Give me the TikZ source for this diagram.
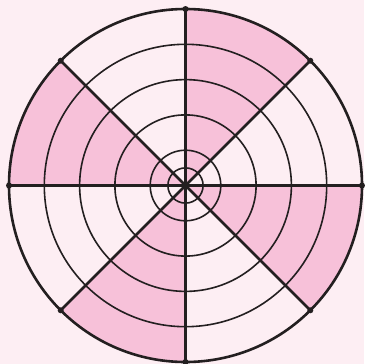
\documentclass[tikz,border=0pt]{standalone}
\usetikzlibrary{calc}
\definecolor{bg}{HTML}{FDEEF3}
\definecolor{shadepink}{HTML}{F7C1D9}
\definecolor{ink}{HTML}{231F20}
\tikzset{
  ring/.style={draw=ink, line width=1.6pt},
  spoke/.style={draw=ink, line width=2.6pt},
  rim/.style={draw=ink, line width=2.6pt},
  enddot/.style={fill=ink},
}
\begin{document}
\begin{tikzpicture}[x=1pt,y=1pt]
\fill[bg] (0,0) rectangle (364,-364);
\useasboundingbox (0,0) rectangle (364,-364);
\coordinate (O) at (185.5,-185.5);
\def\R{176.5}
\foreach \a in {45,135,225,315}
  \fill[shadepink] (O) -- ++(\a:\R) arc[start angle=\a, end angle=\a+45, radius=\R] -- cycle;
\foreach \r in {17.6,35.3,70.6,105.9,141.2}
  \draw[ring] (O) circle[radius=\r];
\draw[rim] (O) circle[radius=\R];
\foreach \a in {0,45,...,315}{
  \coordinate (E\a) at ($(O)+(\a:\R)$);
  \draw[spoke] (O) -- (E\a);
  \fill[enddot] (E\a) circle[radius=3];
}
\end{tikzpicture}
\end{document}
